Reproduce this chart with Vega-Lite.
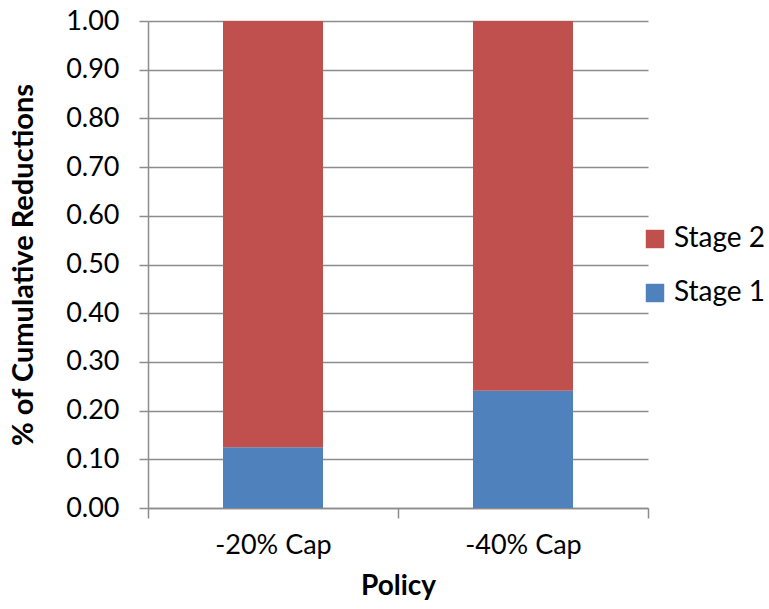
{
  "$schema": "https://vega.github.io/schema/vega-lite/v6.json",
  "autosize": "none",
  "width": 500,
  "height": 487,
  "padding": {"left": 148, "top": 21, "right": 121, "bottom": 101},
  "background": "white",
  "config": {
    "font": "Lato",
    "view": {"stroke": null}
  },
  "data": {
    "values": [
      {"policy": "-20% Cap", "stage": "Stage 1", "value": 0.125},
      {"policy": "-20% Cap", "stage": "Stage 2", "value": 0.875},
      {"policy": "-40% Cap", "stage": "Stage 1", "value": 0.241},
      {"policy": "-40% Cap", "stage": "Stage 2", "value": 0.759}
    ]
  },
  "mark": {"type": "bar", "width": {"band": 0.4}},
  "encoding": {
    "x": {
      "field": "policy",
      "type": "nominal",
      "sort": ["-20% Cap", "-40% Cap"],
      "scale": {"paddingInner": 0, "paddingOuter": 0},
      "axis": {
        "title": "Policy",
        "titleFont": "Lato",
        "titleFontSize": 28,
        "titleFontWeight": "bold",
        "titleColor": "black",
        "titlePadding": 14,
        "labelAngle": 0,
        "labelFontSize": 27,
        "labelColor": "black",
        "labelPadding": 14,
        "domainColor": "#8c8c8c",
        "domainWidth": 1.5,
        "tickColor": "#8c8c8c",
        "tickWidth": 1.5,
        "tickSize": 10,
        "tickBand": "extent"
      }
    },
    "y": {
      "field": "value",
      "type": "quantitative",
      "stack": "zero",
      "scale": {"domain": [0, 1], "nice": false},
      "axis": {
        "title": "% of Cumulative Reductions",
        "titleFontSize": 29,
        "titleFontWeight": "bold",
        "titleColor": "black",
        "titlePadding": 27,
        "values": [0, 0.1, 0.2, 0.3, 0.4, 0.5, 0.6, 0.7, 0.8, 0.9, 1.0],
        "format": ".2f",
        "labelFontSize": 27,
        "labelColor": "black",
        "labelPadding": 20,
        "domainColor": "#8c8c8c",
        "domainWidth": 1.5,
        "tickColor": "#8c8c8c",
        "tickWidth": 1.5,
        "tickSize": 9,
        "grid": true,
        "gridColor": "#8c8c8c",
        "gridWidth": 1.5
      }
    },
    "color": {
      "field": "stage",
      "type": "nominal",
      "scale": {"domain": ["Stage 2", "Stage 1"], "range": ["#C0504D", "#4F81BD"]},
      "legend": {
        "title": null,
        "orient": "none",
        "legendX": 493,
        "legendY": 204,
        "padding": 0,
        "symbolType": "square",
        "symbolSize": 340,
        "symbolStrokeWidth": 0,
        "labelFontSize": 28,
        "labelColor": "black",
        "labelOffset": 5,
        "rowPadding": 26
      }
    },
    "order": {"field": "stage", "type": "nominal", "sort": "ascending"}
  }
}
